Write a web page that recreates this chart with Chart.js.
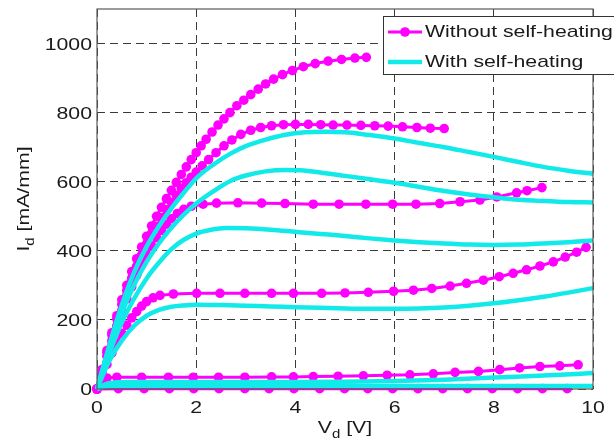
<!DOCTYPE html>
<html>
<head>
<meta charset="utf-8">
<script src="https://cdn.jsdelivr.net/npm/chart.js@4"></script>
<style>
  html, body { margin: 0; padding: 0; background: #fff; }
  canvas { display: block; }
</style>
</head>
<body>
<canvas id="chart" width="614" height="445"></canvas>
<script>
// --- data (Vd in V, Id in mA/mm) ---
const xTicks = [0, 2, 4, 6, 8, 10];
const yTicks = [0, 200, 400, 600, 800, 1000];

// without self-heating (magenta, markers)
const vdM1 = [0, 0.1, 0.2, 0.3, 0.4, 0.5, 0.6, 0.7, 0.8, 0.9, 1.0, 1.1, 1.2, 1.3, 1.4, 1.5, 1.6, 1.7, 1.8, 1.9, 2.0, 2.1, 2.2, 2.32, 2.44, 2.56, 2.68, 2.82, 2.96, 3.1, 3.25, 3.4, 3.56, 3.74, 3.94, 4.16, 4.4, 4.66, 4.93, 5.2, 5.43];
const idM1 = [0, 56, 111, 163, 212, 258, 300, 340, 377, 411, 442, 472, 500, 526, 551, 575, 598, 621, 643, 664, 684, 704, 723, 744, 764, 782, 800, 820, 836, 852, 868, 883, 897, 910, 922, 933, 942, 949, 954, 958, 960];
const vdM2 = [0, 0.1, 0.2, 0.3, 0.4, 0.5, 0.6, 0.7, 0.8, 0.9, 1.0, 1.1, 1.2, 1.3, 1.4, 1.5, 1.6, 1.7, 1.8, 1.9, 2.0, 2.12, 2.25, 2.4, 2.56, 2.72, 2.9, 3.1, 3.3, 3.52, 3.76, 4.0, 4.26, 4.51, 4.76, 5.04, 5.32, 5.6, 5.87, 6.16, 6.45, 6.72, 7.0];
const idM2 = [0, 54, 106, 156, 203, 245, 285, 321, 355, 387, 417, 445, 471, 496, 519, 540, 560, 580, 597, 613, 628, 646, 664, 684, 704, 721, 737, 749, 757, 762, 765, 766, 766, 765, 764, 764, 763, 762, 761, 759, 757, 755, 754];
const vdM3 = [0, 0.1, 0.2, 0.3, 0.4, 0.5, 0.6, 0.7, 0.8, 0.9, 1.0, 1.1, 1.2, 1.3, 1.4, 1.5, 1.62, 1.75, 1.9, 2.14, 2.41, 2.84, 3.32, 3.79, 4.36, 4.88, 5.42, 5.96, 6.43, 6.91, 7.32, 7.72, 8.06, 8.46, 8.67, 8.97];
const idM3 = [0, 48, 95, 140, 183, 223, 261, 296, 329, 360, 388, 414, 438, 459, 477, 493, 508, 520, 529, 535, 538, 539, 538, 537, 535, 535, 535, 535, 535, 537, 542, 547, 556, 568, 574, 583];
const vdM4 = [0, 0.1, 0.2, 0.3, 0.4, 0.5, 0.6, 0.7, 0.8, 0.9, 1.0, 1.13, 1.27, 1.54, 2.01, 2.48, 2.98, 3.52, 3.96, 4.53, 5.0, 5.47, 5.98, 6.38, 6.75, 7.12, 7.45, 7.79, 8.11, 8.39, 8.66, 8.93, 9.2, 9.44, 9.67, 9.86];
const idM4 = [0, 36, 71, 104, 134, 161, 185, 206, 224, 240, 253, 264, 271, 275, 277, 277, 277, 277, 277, 277, 278, 280, 283, 286, 291, 298, 306, 315, 325, 335, 345, 356, 368, 382, 396, 410];
const vdM5 = [0, 0.1, 0.2, 0.4, 0.9, 1.44, 1.94, 2.45, 2.98, 3.52, 3.96, 4.36, 4.86, 5.37, 5.85, 6.31, 6.78, 7.22, 7.69, 8.12, 8.52, 8.93, 9.33, 9.7];
const idM5 = [0, 26, 32, 34, 34, 34, 34, 34, 34, 35, 35, 36, 37, 38, 40, 41, 44, 48, 51, 56, 61, 65, 67, 70];
const vdM6 = [0, 0.43, 0.95, 1.46, 1.95, 2.46, 2.98, 3.47, 3.97, 4.49, 4.99, 5.46, 5.96, 6.47, 6.97, 7.47, 7.97, 8.48, 8.98, 9.48];
const idM6 = [0, 1, 1, 1, 1, 1, 1, 1, 1, 1, 1, 1, 1, 1, 1, 1, 1, 1, 1, 1];

// with self-heating (cyan, plain lines)
const vdC1 = [0, 0.25, 0.5, 0.75, 1.0, 1.25, 1.5, 1.75, 2.0, 2.35, 2.7, 3.0, 3.4, 3.8, 4.2, 4.6, 5.0, 5.5, 6.0, 6.5, 7.0, 7.5, 8.0, 8.5, 9.0, 9.5, 10];
const idC1 = [0, 128, 243, 338, 412, 472, 523, 568, 610, 650, 682, 703, 722, 736, 743, 745, 743, 735, 725, 712, 700, 686, 672, 657, 643, 632, 623];
const vdC2 = [0, 0.25, 0.5, 0.75, 1.0, 1.25, 1.5, 1.75, 2.0, 2.35, 2.7, 3.0, 3.4, 3.8, 4.1, 4.5, 5.0, 5.5, 6.0, 6.5, 7.0, 7.5, 8.0, 8.5, 9.0, 9.5, 10];
const idC2 = [0, 118, 220, 302, 368, 422, 467, 505, 537, 573, 603, 618, 630, 634, 633, 627, 617, 607, 597, 585, 573, 563, 555, 548, 544, 541, 540];
const vdC3 = [0, 0.25, 0.5, 0.75, 1.0, 1.25, 1.5, 1.75, 2.0, 2.3, 2.6, 3.0, 3.5, 4.0, 4.5, 5.0, 5.5, 6.0, 6.5, 7.0, 7.5, 8.0, 8.5, 9.0, 9.5, 10];
const idC3 = [0, 104, 192, 262, 320, 366, 405, 432, 450, 461, 466, 465, 461, 455, 449, 443, 436, 430, 425, 421, 418, 417, 418, 421, 425, 430];
const vdC4 = [0, 0.25, 0.5, 0.75, 1.0, 1.25, 1.5, 1.75, 2.0, 2.5, 3.0, 3.5, 4.0, 4.5, 5.0, 5.5, 6.0, 6.5, 7.0, 7.5, 8.0, 8.5, 9.0, 9.5, 10];
const idC4 = [0, 82, 140, 183, 212, 229, 238, 242, 244, 243, 241, 239, 237, 235, 233, 232, 232, 233, 236, 241, 248, 257, 267, 279, 292];
const vdC5 = [0, 0.15, 0.3, 0.6, 1, 2, 3, 4, 5, 6, 7, 8, 9, 10];
const idC5 = [0, 13, 18, 20, 20, 20, 20, 20, 21, 23, 27, 33, 39, 46];
const vdC6 = [0, 0.15, 0.3, 1, 2, 4, 6, 8, 10];
const idC6 = [0, 7, 9, 9, 9, 9, 9, 9, 9];

const legendLabels = ['Without self-heating', 'With self-heating'];

const MAGENTA = '#ff00ff';
const CYAN = '#12eaea';
const TEXT = '#1a1a1a';
const FONT = '"Liberation Sans", Arial, Helvetica, sans-serif';
const STRETCH = 1.25; // the original's lettering is wide

function pts(xs, ys) {
  return xs.map((x, i) => ({ x, y: ys[i] }));
}

function withHeat(xs, ys) {
  return {
    label: legendLabels[1], data: pts(xs, ys), showLine: true,
    borderColor: CYAN, borderWidth: 4.5, pointRadius: 0,
    cubicInterpolationMode: 'monotone', order: 0, clip: 6,
  };
}

function noHeat(xs, ys) {
  return {
    label: legendLabels[0], data: pts(xs, ys), showLine: true,
    borderColor: MAGENTA, backgroundColor: MAGENTA, borderWidth: 3,
    pointRadius: 4.8, pointBorderWidth: 0, pointBackgroundColor: MAGENTA,
    tension: 0, order: 1, clip: 8,
  };
}

// draw wide text: str at (x, y) baseline, align 'left' | 'center' | 'right'
function wideText(ctx, str, x, y, align, size) {
  ctx.font = `${size}px ${FONT}`;
  const w = ctx.measureText(str).width * STRETCH;
  let x0 = x;
  if (align === 'center') x0 = x - w / 2;
  if (align === 'right') x0 = x - w;
  ctx.save();
  ctx.translate(x0, y);
  ctx.scale(STRETCH, 1);
  ctx.textAlign = 'left';
  ctx.textBaseline = 'alphabetic';
  ctx.fillText(str, 0, 0);
  ctx.restore();
  return w;
}

function wideWidth(ctx, str, size) {
  ctx.font = `${size}px ${FONT}`;
  return ctx.measureText(str).width * STRETCH;
}

const decor = {
  id: 'decor',
  afterDraw(chart) {
    const { ctx, chartArea: a, scales } = chart;
    ctx.save();

    // axes box
    ctx.strokeStyle = '#5a5a5a';
    ctx.lineWidth = 1.2;
    ctx.strokeRect(a.left, a.top, a.right - a.left, a.bottom - a.top);

    ctx.fillStyle = TEXT;
    // tick labels
    yTicks.forEach((v) => {
      wideText(ctx, String(v), 92, scales.y.getPixelForValue(v) + 6, 'right', 17);
    });
    xTicks.forEach((v) => {
      wideText(ctx, String(v), scales.x.getPixelForValue(v), 413, 'center', 17);
    });

    // x title: V_d [V]
    const xw = wideWidth(ctx, 'V', 17) + wideWidth(ctx, 'd', 12) + wideWidth(ctx, ' [V]', 17);
    let cx = (a.left + a.right) / 2 - xw / 2;
    cx += wideText(ctx, 'V', cx, 433, 'left', 17);
    cx += wideText(ctx, 'd', cx, 438, 'left', 12);
    wideText(ctx, ' [V]', cx, 433, 'left', 17);

    // y title: I_d [mA/mm], rotated
    ctx.save();
    ctx.translate(29, (a.top + a.bottom) / 2);
    ctx.rotate(-Math.PI / 2);
    const yw = wideWidth(ctx, 'I', 17) + wideWidth(ctx, 'd', 12) + wideWidth(ctx, ' [mA/mm]', 17);
    let cy = -yw / 2;
    cy += wideText(ctx, 'I', cy, 0, 'left', 17);
    cy += wideText(ctx, 'd', cy, 5, 'left', 12);
    wideText(ctx, ' [mA/mm]', cy, 0, 'left', 17);
    ctx.restore();

    // legend box
    ctx.fillStyle = '#fff';
    ctx.fillRect(383, 16, 260, 58);
    ctx.strokeStyle = '#333';
    ctx.lineWidth = 1;
    ctx.strokeRect(383.5, 16.5, 260, 58);

    ctx.lineCap = 'butt';
    ctx.strokeStyle = MAGENTA;
    ctx.lineWidth = 3;
    ctx.beginPath(); ctx.moveTo(388, 32); ctx.lineTo(422, 32); ctx.stroke();
    ctx.fillStyle = MAGENTA;
    ctx.beginPath(); ctx.arc(405, 32, 4.8, 0, Math.PI * 2); ctx.fill();

    ctx.strokeStyle = CYAN;
    ctx.lineWidth = 4.5;
    ctx.beginPath(); ctx.moveTo(388, 62); ctx.lineTo(422, 62); ctx.stroke();

    ctx.fillStyle = TEXT;
    wideText(ctx, legendLabels[0], 425, 37, 'left', 17);
    wideText(ctx, legendLabels[1], 425, 67, 'left', 17);

    ctx.restore();
  },
};

new Chart(document.getElementById('chart'), {
  type: 'scatter',
  data: {
    datasets: [
      withHeat(vdC1, idC1), withHeat(vdC2, idC2), withHeat(vdC3, idC3),
      withHeat(vdC4, idC4), withHeat(vdC5, idC5), withHeat(vdC6, idC6),
      noHeat(vdM1, idM1), noHeat(vdM2, idM2), noHeat(vdM3, idM3),
      noHeat(vdM4, idM4), noHeat(vdM5, idM5), noHeat(vdM6, idM6),
    ],
  },
  options: {
    responsive: false,
    animation: false,
    events: [],
    layout: { padding: { left: 0, top: 9, right: 21, bottom: 0 } },
    plugins: { legend: { display: false }, tooltip: { enabled: false } },
    scales: {
      x: {
        type: 'linear', min: 0, max: 10,
        ticks: { stepSize: 2, display: false },
        grid: { color: '#3a3a3a', lineWidth: 1, drawTicks: false },
        border: { display: false, dash: [8, 5] },
        afterFit: (s) => { s.height = 56; },
      },
      y: {
        type: 'linear', min: 0, max: 1100,
        ticks: { stepSize: 200, includeBounds: false, display: false },
        grid: { color: '#3a3a3a', lineWidth: 1, drawTicks: false },
        border: { display: false, dash: [8, 5] },
        afterFit: (s) => { s.width = 97; },
      },
    },
  },
  plugins: [decor],
});
</script>
</body>
</html>
